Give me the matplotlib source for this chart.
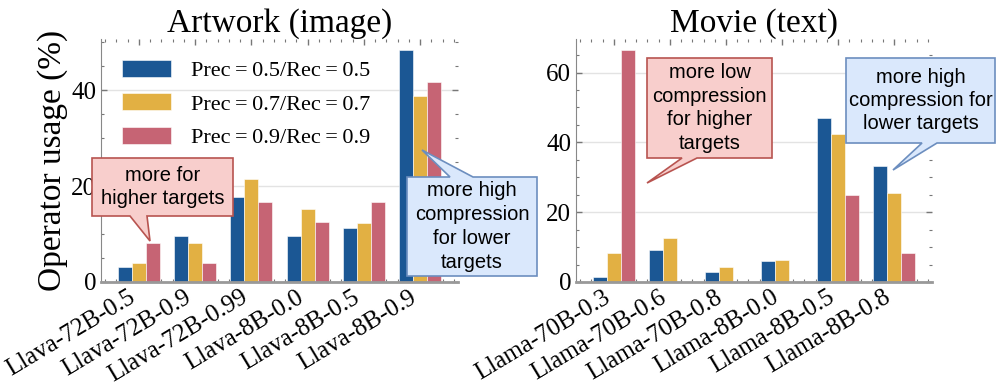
import numpy as np
import matplotlib.pyplot as plt
from matplotlib.patches import Polygon
from matplotlib.ticker import MultipleLocator

# data
art_labels = ['Llava-72B-0.5', 'Llava-72B-0.9', 'Llava-72B-0.99',
              'Llava-8B-0.0', 'Llava-8B-0.5', 'Llava-8B-0.9']
art_p05 = [3.1, 9.6, 17.7, 9.6, 11.3, 48.4]
art_p07 = [4.0, 8.1, 21.4, 15.3, 12.3, 38.8]
art_p09 = [8.2, 4.0, 16.7, 12.5, 16.7, 41.7]

movie_labels = ['Llama-70B-0.3', 'Llama-70B-0.6', 'Llama-70B-0.8',
                'Llama-8B-0.0', 'Llama-8B-0.5', 'Llama-8B-0.8']
movie_p05 = [1.5, 9.1, 3.0, 6.0, 46.9, 33.3]
movie_p07 = [8.4, 12.6, 4.2, 6.3, 42.4, 25.5]
movie_p09 = [66.5, 0.0, 0.0, 0.0, 24.9, 8.2]

series_names = ['Prec\u2009=\u20090.5/Rec\u2009=\u20090.5',
                'Prec\u2009=\u20090.7/Rec\u2009=\u20090.7',
                'Prec\u2009=\u20090.9/Rec\u2009=\u20090.9']
colors = ['#1b5794', '#e2b043', '#c66474']

plt.rcParams['font.family'] = ['Liberation Serif', 'DejaVu Serif']

W, H = 996, 387
fig = plt.figure(figsize=(W / 100, H / 100), dpi=100)
ax1 = fig.add_axes([101 / W, 1 - 282 / H, 357 / W, 243 / H])
ax2 = fig.add_axes([576 / W, 1 - 282 / H, 356 / W, 243 / H])


def draw(ax, labels, vals, title, ymax, ymajor):
    x = np.arange(len(labels))
    w = 0.25
    for i, v in enumerate(vals):
        ax.bar(x + (i - 1) * w, v, w, color=colors[i], label=series_names[i],
               edgecolor='white', linewidth=0.4, zorder=2)
    ax.set_xlim(-0.675, len(labels) - 0.325)
    ax.set_ylim(0, ymax)
    ax.set_xticks(x)
    ax.set_xticklabels(labels, rotation=31, ha='right', fontsize=18)
    ax.yaxis.set_major_locator(MultipleLocator(ymajor))
    ax.yaxis.set_minor_locator(MultipleLocator(5))
    ax.xaxis.set_minor_locator(MultipleLocator(0.2))
    ax.tick_params(axis='y', labelsize=18)
    ax.tick_params(which='both', direction='in', top=True, right=True,
                   color='#777777')
    ax.tick_params(which='major', length=4, width=1)
    ax.tick_params(which='minor', length=2, width=0.8)
    ax.tick_params(axis='x', pad=3)
    ax.grid(axis='y', color='#e3e3e3', linewidth=1)
    ax.set_axisbelow(True)
    ax.spines['top'].set_visible(False)
    ax.spines['right'].set_visible(False)
    ax.spines['left'].set_color('#888888')
    ax.spines['left'].set_linewidth(0.8)
    ax.spines['bottom'].set_color('#999999')
    ax.spines['bottom'].set_linewidth(2)
    ax.set_title(title, fontsize=24, pad=3)


draw(ax1, art_labels, [art_p05, art_p07, art_p09], 'Artwork (image)', 50.7, 20)
draw(ax2, movie_labels, [movie_p05, movie_p07, movie_p09], 'Movie (text)', 69.6, 20)
ax1.set_ylabel('Operator usage (%)', fontsize=24, labelpad=2)

ax1.legend(loc='upper left', bbox_to_anchor=(0.059, 0.914), frameon=False,
           fontsize=16, handlelength=2.2, handleheight=0.8,
           handletextpad=0.9, labelspacing=0.55, borderpad=0, borderaxespad=0)


def callout(box, base, tip, text, face, edge, side='bottom', ls=1.15):
    # box/base/tip in image pixels (origin top-left)
    x0, y0, x1, y1 = box
    if side == 'bottom':
        pts = [(x0, y0), (x1, y0), (x1, y1), (base[1], y1), tip, (base[0], y1), (x0, y1)]
    else:
        pts = [(x0, y0), (base[0], y0), tip, (base[1], y0), (x1, y0), (x1, y1), (x0, y1)]
    pts = [(px / W, 1 - py / H) for px, py in pts]
    fig.add_artist(Polygon(pts, closed=True, facecolor=face, edgecolor=edge,
                           linewidth=1.2, transform=fig.transFigure, zorder=10))
    fig.text((x0 + x1) / 2 / W, 1 - (y0 + y1) / 2 / H, text, ha='center', va='center',
             fontsize=14.5, family=['Liberation Sans', 'DejaVu Sans'],
             linespacing=ls, zorder=11)


pink_face, pink_edge = '#f8cecc', '#b85450'
blue_face, blue_edge = '#dae8fc', '#6c8ebf'
callout((92, 158, 233, 216), (130, 147), (150, 241), 'more for\nhigher targets',
        pink_face, pink_edge, 'bottom', 1.24)
callout((407, 177, 537, 276), (450, 473), (422, 150),
        'more high\ncompression\nfor lower\ntargets', blue_face, blue_edge, 'top', 1.32)
callout((647, 58, 772, 158), (682, 697), (647, 183),
        'more low\ncompression\nfor higher\ntargets', pink_face, pink_edge, 'bottom', 1.33)
callout((846, 58, 995, 143), (922, 937), (893, 170),
        'more high\ncompression for\nlower targets', blue_face, blue_edge, 'bottom', 1.29)

fig.savefig('out.png', dpi=100)
